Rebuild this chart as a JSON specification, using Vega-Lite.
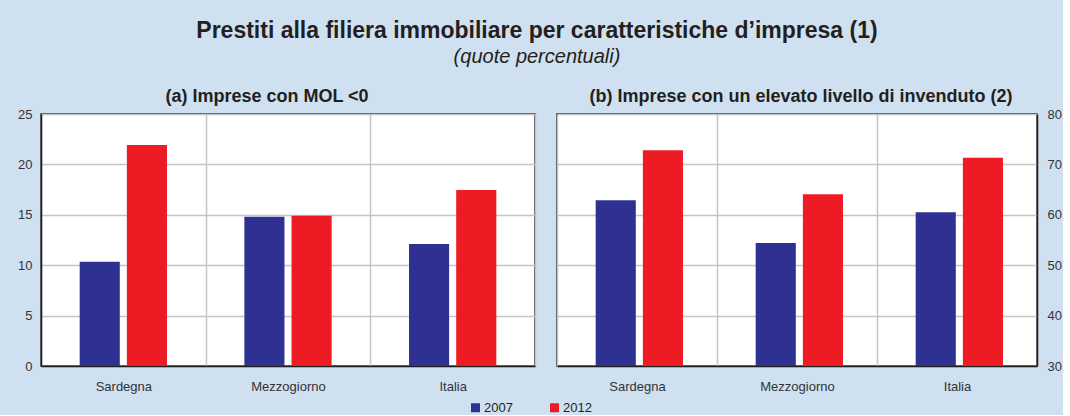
{
  "$schema": "https://vega.github.io/schema/vega-lite/v6.json",
  "background": "#cfe0f1",
  "padding": {"left": 16, "top": 20, "right": 0, "bottom": 0},
  "title": {
    "text": "Prestiti alla filiera immobiliare per caratteristiche d’impresa (1)",
    "subtitle": "(quote percentuali)",
    "anchor": "start",
    "align": "center",
    "dx": 496,
    "frame": "group",
    "fontSize": 23,
    "fontWeight": "bold",
    "font": "Liberation Sans",
    "color": "#231f20",
    "subtitleFont": "Liberation Sans",
    "subtitleFontSize": 20,
    "subtitleFontStyle": "italic",
    "subtitleColor": "#231f20",
    "subtitlePadding": 4,
    "offset": 20
  },
  "datasets": {
    "a": [
      {"region": "Sardegna", "year": "2007", "value": 10.34},
      {"region": "Sardegna", "year": "2012", "value": 21.93},
      {"region": "Mezzogiorno", "year": "2007", "value": 14.8},
      {"region": "Mezzogiorno", "year": "2012", "value": 14.9},
      {"region": "Italia", "year": "2007", "value": 12.1},
      {"region": "Italia", "year": "2012", "value": 17.47}
    ],
    "b": [
      {"region": "Sardegna", "year": "2007", "value": 62.9},
      {"region": "Sardegna", "year": "2012", "value": 72.8},
      {"region": "Mezzogiorno", "year": "2007", "value": 54.4},
      {"region": "Mezzogiorno", "year": "2012", "value": 64.1},
      {"region": "Italia", "year": "2007", "value": 60.5},
      {"region": "Italia", "year": "2012", "value": 71.3}
    ]
  },
  "spacing": 20,
  "hconcat": [
    {
      "title": {"text": "(a) Imprese con MOL <0", "dx": -21},
      "width": 494,
      "height": 252,
      "data": {"name": "a"},
      "mark": {"type": "bar"},
      "encoding": {
        "x": {
          "field": "region", "type": "nominal",
          "sort": ["Sardegna", "Mezzogiorno", "Italia"],
          "scale": {"paddingInner": 0, "paddingOuter": 0},
          "axis": {"title": null, "labelAngle": 0, "tickBand": "extent", "grid": true}
        },
        "xOffset": {
          "field": "year", "type": "nominal",
          "scale": {"paddingInner": 0.15, "paddingOuter": 0.82}
        },
        "y": {
          "field": "value", "type": "quantitative",
          "scale": {"domain": [0, 25], "nice": false},
          "axis": {"title": null, "values": [0, 5, 10, 15, 20, 25], "grid": true}
        },
        "color": {
          "field": "year", "type": "nominal",
          "scale": {"domain": ["2007", "2012"], "range": ["#2e3192", "#ed1c24"]},
          "legend": {
            "title": null, "orient": "none", "legendX": 428, "legendY": 287,
            "direction": "horizontal", "symbolType": "square", "symbolSize": 81,
            "symbolStrokeWidth": 0, "labelFontSize": 13, "columnPadding": 35,
            "labelOffset": 2, "padding": 0
          }
        }
      }
    },
    {
      "title": {"text": "(b) Imprese con un elevato livello di invenduto (2)", "dx": 4},
      "width": 480,
      "height": 252,
      "data": {"name": "b"},
      "mark": {"type": "bar"},
      "encoding": {
        "x": {
          "field": "region", "type": "nominal",
          "sort": ["Sardegna", "Mezzogiorno", "Italia"],
          "scale": {"paddingInner": 0, "paddingOuter": 0},
          "axis": {"title": null, "labelAngle": 0, "tickBand": "extent", "grid": true}
        },
        "xOffset": {
          "field": "year", "type": "nominal",
          "scale": {"paddingInner": 0.15, "paddingOuter": 0.82}
        },
        "y": {
          "field": "value", "type": "quantitative",
          "scale": {"domain": [30, 80], "nice": false, "zero": false},
          "axis": {"title": null, "orient": "right", "values": [30, 40, 50, 60, 70, 80], "grid": true, "labelPadding": 10}
        },
        "y2": {"datum": 30},
        "color": {
          "field": "year", "type": "nominal",
          "scale": {"domain": ["2007", "2012"], "range": ["#2e3192", "#ed1c24"]},
          "legend": {
            "title": null, "orient": "none", "legendX": 428, "legendY": 287,
            "direction": "horizontal", "symbolType": "square", "symbolSize": 81,
            "symbolStrokeWidth": 0, "labelFontSize": 13, "columnPadding": 35,
            "labelOffset": 2, "padding": 0
          }
        }
      }
    }
  ],
  "config": {
    "font": "Liberation Sans",
    "view": {"stroke": "#231f20", "strokeWidth": 1.5, "fill": "white"},
    "axis": {
      "domainColor": "#231f20", "domainWidth": 1.5,
      "gridColor": "#c4c4c4", "gridWidth": 1.5,
      "labelColor": "#333333", "labelFontSize": 13, "labelFont": "Liberation Sans",
      "ticks": false
    },
    "axisX": {"labelPadding": 14},
    "axisY": {"labelPadding": 9},
    "title": {"fontSize": 18, "fontWeight": "bold", "color": "#231f20", "offset": 2, "font": "Liberation Sans"},
    "legend": {"labelColor": "#231f20", "labelFont": "Liberation Sans"}
  }
}
